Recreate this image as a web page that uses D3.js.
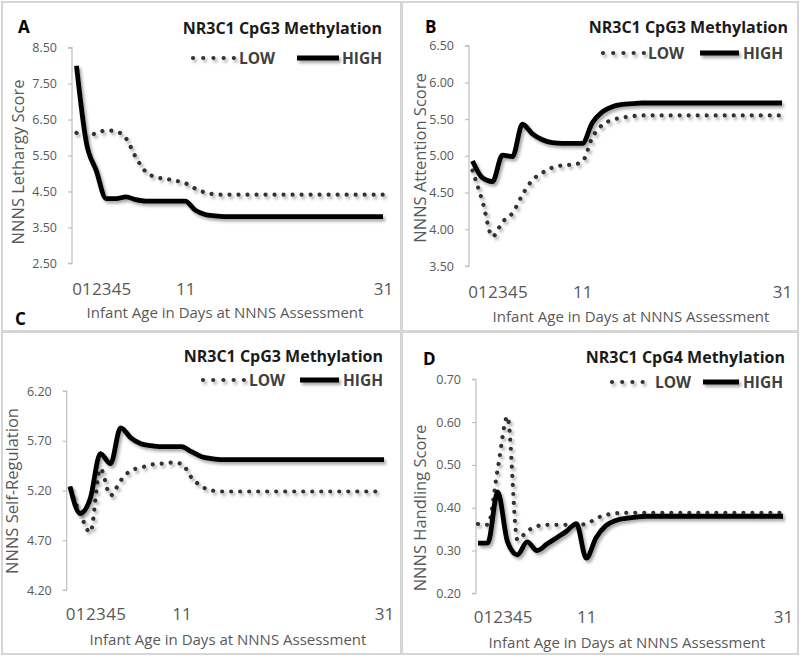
<!DOCTYPE html>
<html>
<head>
<meta charset="utf-8">
<script src="https://cdn.jsdelivr.net/npm/d3@7"></script>
<style>
  html, body { margin: 0; padding: 0; background: #fff; }
  svg { display: block; }
  text { font-family: "Open Sans", "DejaVu Sans", sans-serif; }
</style>
</head>
<body>
<svg id="chart" width="800" height="656"></svg>
<script>
// ---------------- DATA ----------------
const days = [0,1,2,3,4,5,6,7,8,9,10,11,12,13,14,15,16,17,31];
const xTickLabels = [0,1,2,3,4,5,11,31];

const lethargyLow  = [6.13,6.05,6.12,6.20,6.17,5.98,5.45,5.05,4.90,4.85,4.80,4.73,4.58,4.47,4.42,4.41,4.41,4.41,4.41];
const lethargyHigh = [8.00,5.85,5.08,4.30,4.30,4.35,4.27,4.23,4.23,4.23,4.23,4.23,3.98,3.86,3.82,3.80,3.80,3.80,3.80];

const attentionLow  = [4.80,4.38,3.90,4.10,4.22,4.47,4.67,4.77,4.84,4.87,4.88,4.92,5.25,5.42,5.49,5.52,5.54,5.55,5.55];
const attentionHigh = [4.93,4.70,4.65,5.01,4.99,5.43,5.30,5.22,5.18,5.17,5.17,5.17,5.45,5.60,5.67,5.70,5.71,5.72,5.72];

const selfRegLow  = [5.22,4.97,4.78,5.42,5.15,5.30,5.40,5.43,5.46,5.47,5.48,5.47,5.33,5.24,5.20,5.19,5.19,5.19,5.19];
const selfRegHigh = [5.24,4.97,5.12,5.57,5.47,5.83,5.73,5.67,5.65,5.64,5.64,5.64,5.59,5.54,5.52,5.51,5.51,5.51,5.51];

const handlingLow  = [0.362,0.360,0.490,0.613,0.325,0.345,0.357,0.360,0.360,0.360,0.360,0.362,0.375,0.383,0.387,0.388,0.388,0.388,0.388];
const handlingHigh = [0.317,0.318,0.437,0.320,0.290,0.320,0.300,0.315,0.330,0.345,0.363,0.282,0.330,0.358,0.370,0.375,0.378,0.380,0.380];

const lethargyTicks  = [2.5,3.5,4.5,5.5,6.5,7.5,8.5];
const attentionTicks = [3.5,4.0,4.5,5.0,5.5,6.0,6.5];
const selfRegTicks   = [4.2,4.7,5.2,5.7,6.2];
const handlingTicks  = [0.2,0.3,0.4,0.5,0.6,0.7];

const seriesNames = ["LOW","HIGH"];
const xTitle = "Infant Age in Days at NNNS Assessment";

// ---------------- LAYOUT ----------------
const panels = [
  { letter:"A", lx:18, ly:33, title:"NR3C1 CpG3 Methylation", tx:382, ty:34,
    yTitle:"NNNS Lethargy Score", ytx:24, yty:162,
    low:lethargyLow, high:lethargyHigh, ticks:lethargyTicks,
    axisX:72, x0:76.5, x1:383, yTop:47.7, yBot:263.3,
    xtBase:295, xtitleX:225, xtitleY:318,
    leg:{y:58, d0:193, d1:235, lowX:239, s0:297, s1:339, highX:342} },
  { letter:"B", lx:425, ly:33, title:"NR3C1 CpG3 Methylation", tx:788, ty:33,
    yTitle:"NNNS Attention Score", ytx:426, yty:158,
    low:attentionLow, high:attentionHigh, ticks:attentionTicks,
    axisX:469, x0:472.5, x1:782, yTop:45.7, yBot:266,
    xtBase:298, xtitleX:631, xtitleY:322,
    leg:{y:53, d0:603, d1:644, lowX:648, s0:700, s1:739, highX:743} },
  { letter:"C", lx:15, ly:325, title:"NR3C1 CpG3 Methylation", tx:383, ty:362,
    yTitle:"NNNS Self-Regulation", ytx:18, yty:491,
    low:selfRegLow, high:selfRegHigh, ticks:selfRegTicks,
    axisX:66.7, x0:70, x1:384, yTop:391, yBot:590,
    xtBase:620, xtitleX:228, xtitleY:645,
    leg:{y:380, d0:203, d1:245, lowX:249, s0:300, s1:339, highX:343} },
  { letter:"D", lx:423, ly:365, title:"NR3C1 CpG4 Methylation", tx:785, ty:363,
    yTitle:"NNNS  Handling Score", ytx:426, yty:508,
    low:handlingLow, high:handlingHigh, ticks:handlingTicks,
    axisX:476, x0:478, x1:783, yTop:379.3, yBot:593.3,
    xtBase:623, xtitleX:627, xtitleY:648,
    leg:{y:382, d0:612, d1:651, lowX:655, s0:703, s1:739, highX:743} }
];

const svg = d3.select("#chart");

// drop shadow (user-space region so horizontal legend lines keep rendering)
const defs = svg.append("defs");
const f = defs.append("filter").attr("id","shadow").attr("filterUnits","userSpaceOnUse")
  .attr("x",0).attr("y",0).attr("width",800).attr("height",656);
f.append("feDropShadow").attr("dx",2).attr("dy",2.5).attr("stdDeviation",1.6)
  .attr("flood-color","#000").attr("flood-opacity",0.35);

// panel borders
const borderColor = "#d6d6d6";
[[2,2,399,329],[402,2,396,329],[2,332,399,322],[402,332,396,322]].forEach(b => {
  svg.append("rect").attr("x",b[0]).attr("y",b[1]).attr("width",b[2]).attr("height",b[3])
    .attr("fill","none").attr("stroke",borderColor).attr("stroke-width",2);
});

const grey = "#595959";
const lowColor = "#333333";

panels.forEach(p => {
  const g = svg.append("g");
  const ext = d3.extent(p.ticks);
  const y = d3.scaleLinear().domain(ext).range([p.yBot, p.yTop]);
  const x = d3.scaleLinear().domain([0,31]).range([p.x0, p.x1]);

  // y axis
  const yAxis = d3.axisLeft(y).tickValues(p.ticks).tickFormat(d3.format(".2f")).tickSize(4).tickPadding(11);
  const ya = g.append("g").attr("transform",`translate(${p.axisX},0)`).call(yAxis);
  ya.select(".domain").attr("stroke","#bfbfbf").attr("stroke-width",1.2).attr("d",`M-4,${p.yTop}H0V${p.yBot}H-4`);
  ya.selectAll(".tick line").attr("stroke","#bfbfbf").attr("stroke-width",1.2);
  ya.selectAll(".tick text").attr("fill",grey).style("font-size","12.5px").style("font-family","'Open Sans'");

  // x tick labels (no axis line)
  const xAxis = d3.axisBottom(x).tickValues(xTickLabels).tickFormat(d3.format("d")).tickSize(0).tickPadding(0);
  const xa = g.append("g").attr("transform",`translate(0,${p.xtBase})`).call(xAxis);
  xa.select(".domain").remove();
  xa.selectAll(".tick text").attr("fill",grey).attr("dy",0).attr("y",0)
    .style("font-size","17px").style("font-family","'Open Sans'");

  // axis titles
  g.append("text").attr("x",p.xtitleX).attr("y",p.xtitleY).attr("text-anchor","middle")
    .attr("fill",grey).style("font-size","15px").text(xTitle);
  g.append("text").attr("transform",`translate(${p.ytx},${p.yty}) rotate(-90)`).attr("text-anchor","middle")
    .attr("fill",grey).style("font-size","16.5px").text(p.yTitle);

  // panel letter and title
  g.append("text").attr("x",p.lx).attr("y",p.ly).attr("fill","#000").style("font-size","17px")
    .style("font-weight","bold").text(p.letter);
  g.append("text").attr("x",p.tx).attr("y",p.ty).attr("text-anchor","end").attr("fill","#1a1a1a")
    .style("font-size","16px").style("font-weight","bold").text(p.title);

  // lines
  const line = d3.line().x((d,i)=>x(days[i])).y(d=>y(d)).curve(d3.curveMonotoneX);
  g.append("path").datum(p.low).attr("d",line).attr("fill","none").attr("stroke",lowColor)
    .attr("stroke-width",4.2).attr("stroke-linecap","round").attr("stroke-dasharray","0.01 9")
    .attr("filter","url(#shadow)");
  g.append("path").datum(p.high).attr("d",line).attr("fill","none").attr("stroke","#000")
    .attr("stroke-width",4.8).attr("stroke-linejoin","round").attr("filter","url(#shadow)");

  // legend
  const L = p.leg;
  g.append("line").attr("x1",L.d0).attr("x2",L.d1).attr("y1",L.y).attr("y2",L.y)
    .attr("stroke",lowColor).attr("stroke-width",4.2).attr("stroke-linecap","round")
    .attr("stroke-dasharray","0.01 10.2").attr("filter","url(#shadow)");
  g.append("text").attr("x",L.lowX).attr("y",L.y+5.5).attr("fill","#404040")
    .style("font-size","15.5px").style("font-weight","bold").text(seriesNames[0]);
  g.append("line").attr("x1",L.s0).attr("x2",L.s1).attr("y1",L.y).attr("y2",L.y)
    .attr("stroke","#000").attr("stroke-width",4.8).attr("filter","url(#shadow)");
  g.append("text").attr("x",L.highX).attr("y",L.y+5.5).attr("fill","#404040")
    .style("font-size","15.5px").style("font-weight","bold").text(seriesNames[1]);
});
</script>
</body>
</html>
